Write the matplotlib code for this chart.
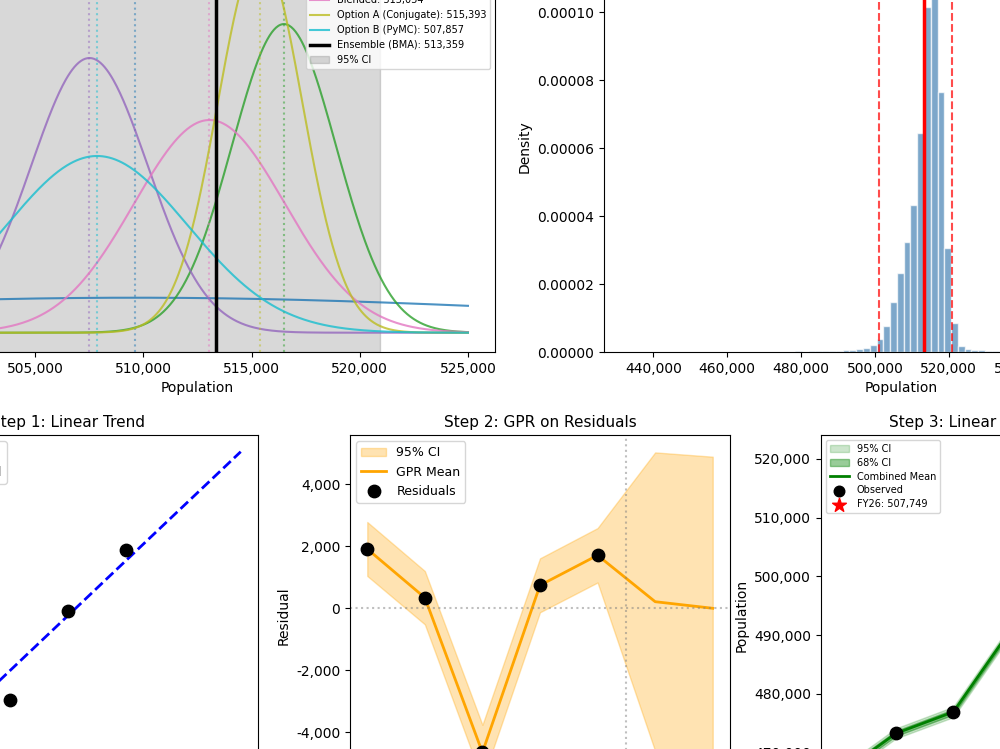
import numpy as np
import matplotlib
matplotlib.use('Agg')
import matplotlib.pyplot as plt
from matplotlib.ticker import FuncFormatter

# --- model posterior summaries (top-left) ---
model_names = ['Holt-Winters', 'ARIMA', 'Cohort', 'Blended', 'Option A (Conjugate)', 'Option B (PyMC)']
model_means = [509603, 516496, 507507, 513054, 515393, 507857]
model_sds = [21190, 2403, 2700, 3487, 1950, 4197]
ens_mean = 513359
ens_ci = [501100, 520950]

# --- ensemble samples histogram (top-right) ---
bin_width = 1835
first_edge = 478396
hist_density = [0.3e-6, 0.1e-6, 0.3e-6, 0.3e-6, 0.3e-6, 0.3e-6, 0.4e-6, 0.5e-6,
                0.6e-6, 0.9e-6, 1.1e-6, 2.0e-6, 3.7e-6, 7.7e-6, 14.6e-6, 23.2e-6,
                32.3e-6, 43.3e-6, 64.6e-6, 101.5e-6, 119.0e-6, 76.7e-6, 30.5e-6,
                8.4e-6, 1.8e-6, 0.9e-6, 0.7e-6, 0.6e-6, 0.3e-6, 0.3e-6, 0.2e-6]

# --- step panels ---
years = [2021, 2022, 2023, 2024, 2025, 2026, 2027]
obs_years = [2021, 2022, 2023, 2024, 2025]
observed = [466199, 473278, 476936, 490978, 500596]
trend = [464286, 472936, 481586, 490236, 498886, 507536, 516186]
residuals = [1913, 342, -4650, 742, 1710]
gpr_mean = [1913, 342, -4650, 742, 1710, 213, 0]
gpr_sd = [444, 439, 454, 444, 448, 2457, 2495]
fy26_value = 507749

W, H = 1000, 749
fig = plt.figure(figsize=(W / 100, H / 100), dpi=100)


def place(l, t, r, b):
    return fig.add_axes([l / W, 1 - b / H, (r - l) / W, (b - t) / H])


comma = FuncFormatter(lambda v, p: f'{v:,.0f}')

# ---------------- top-left: posterior curves ----------------
ax1 = place(-100, -58, 495, 352)
colors = plt.cm.tab10(np.linspace(0, 1, len(model_names)))
xs = np.linspace(500000, 525000, 500)
for name, m, s, c in zip(model_names, model_means, model_sds, colors):
    pdf = np.exp(-0.5 * ((xs - m) / s) ** 2) / (s * np.sqrt(2 * np.pi))
    ax1.plot(xs, pdf, color=c, lw=1.5, alpha=0.8, label=f'{name}: {m:,}')
    ax1.axvline(m, color=c, ls=':', lw=1.5, alpha=0.5)
ax1.axvline(ens_mean, color='black', lw=2.5, label=f'Ensemble (BMA): {ens_mean:,}')
ax1.axvspan(ens_ci[0], ens_ci[1], color='gray', alpha=0.3, label='95% CI')
ax1.set_xlim(498750, 526250)
ax1.set_ylim(-1.038e-5, 2.1016e-4)
ax1.xaxis.set_major_formatter(comma)
ax1.set_xlabel('Population')
ax1.set_ylabel('Density')
ax1.set_title('Model Posterior Distributions', fontsize=11)
ax1.legend(loc='upper right', fontsize=7)

# ---------------- top-right: ensemble histogram ----------------
ax2 = place(604, -58, 1199, 352)
edges = first_edge + bin_width * np.arange(len(hist_density))
ax2.bar(edges, hist_density, width=bin_width, align='edge', color='steelblue',
        alpha=0.7, edgecolor='white')
ax2.axvline(ens_mean, color='red', lw=2.5)
ax2.axvline(ens_ci[0], color='red', ls='--', lw=1.5, alpha=0.7)
ax2.axvline(ens_ci[1], color='red', ls='--', lw=1.5, alpha=0.7)
ax2.set_xlim(426658, 587700)
ax2.set_ylim(0, 1.2076e-4)
ax2.xaxis.set_major_formatter(comma)
ax2.set_xlabel('Population')
ax2.set_ylabel('Density')
ax2.set_title('Ensemble Distribution', fontsize=11)

# ---------------- step 1 ----------------
ax3 = place(-122, 435, 258, 796)
ax3.scatter(obs_years, observed, color='black', s=80, zorder=5, label='Observed')
ax3.plot(years, trend, 'b--', lw=2, label='Linear Trend')
ax3.set_xlim(2020.7, 2027.3)
ax3.set_ylim(461665, 518831)
ax3.yaxis.set_major_formatter(comma)
ax3.set_title('Step 1: Linear Trend', fontsize=11)
ax3.set_ylabel('Population')
ax3.legend(loc='upper left', fontsize=9)

# ---------------- step 2 ----------------
ax4 = place(350, 435, 730, 796)
g_mean = np.array(gpr_mean)
g_sd = np.array(gpr_sd)
ax4.fill_between(years, g_mean - 1.96 * g_sd, g_mean + 1.96 * g_sd,
                 color='orange', alpha=0.3, label='95% CI')
ax4.plot(years, g_mean, color='orange', lw=2, label='GPR Mean')
ax4.scatter(obs_years, residuals, color='black', s=80, zorder=5, label='Residuals')
ax4.axhline(0, color='gray', ls=':', alpha=0.5)
ax4.axvline(2025.5, color='gray', ls=':', alpha=0.5)
ax4.set_xlim(2020.7, 2027.3)
ax4.set_ylim(-6055, 5590)
ax4.yaxis.set_major_formatter(comma)
ax4.set_title('Step 2: GPR on Residuals', fontsize=11)
ax4.set_ylabel('Residual')
ax4.legend(loc='upper left', fontsize=9)

# ---------------- step 3 ----------------
ax5 = place(821, 435, 1201, 796)
comb = np.array(trend) + g_mean
ax5.fill_between(years, comb - 1.96 * g_sd, comb + 1.96 * g_sd,
                 color='green', alpha=0.2, label='95% CI')
ax5.fill_between(years, comb - g_sd, comb + g_sd,
                 color='green', alpha=0.4, label='68% CI')
ax5.plot(years, comb, color='green', lw=2, label='Combined Mean')
ax5.scatter(obs_years, observed, color='black', s=80, zorder=5, label='Observed')
ax5.scatter([2026], [fy26_value], color='red', marker='*', s=150, zorder=6,
            label=f'FY26: {fy26_value:,}')
ax5.axvline(2025.5, color='gray', ls=':', alpha=0.5)
ax5.set_xlim(2020.7, 2027.3)
ax5.set_ylim(462636, 524031)
ax5.yaxis.set_major_formatter(comma)
ax5.set_title('Step 3: Linear + GPR Combined', fontsize=11)
ax5.set_ylabel('Population')
ax5.legend(loc='upper left', fontsize=7, labelspacing=0.4, markerscale=0.85)

fig.savefig('out.png', dpi=100)
